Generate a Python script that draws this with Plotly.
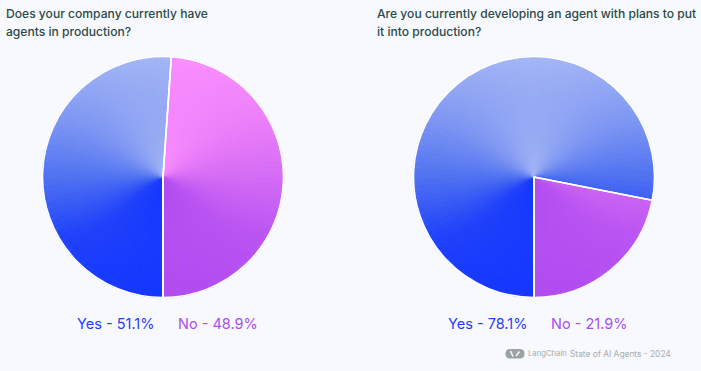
import math
import plotly.graph_objects as go

labels = ["Yes", "No"]
left_values = [51.1, 48.9]
right_values = [78.1, 21.9]
left_title = ["Does your company currently have", "agents in production?"]
right_title = ["Are you currently developing an agent with plans to put", "it into production?"]
footer_brand = "LangChain"
footer_text = "State of AI Agents - 2024"

BG = "#F8F8FF"
W, H = 701, 371
R = 120
BLUE_STOPS = [(0.0, (164, 182, 245)), (0.25, (128, 152, 243)), (0.5, (80, 114, 241)),
              (0.75, (32, 66, 250)), (1.0, (20, 54, 255))]
PINK_STOPS = [(0.0, (250, 143, 255)), (0.25, (236, 128, 250)), (0.5, (212, 108, 245)),
              (0.75, (186, 84, 242)), (1.0, (176, 76, 240))]
STEP_SHARE = 0.8
RING_RADII = list(range(R, 3, -5))


def mix(stops, t):
    for (a, ca), (b, cb) in zip(stops, stops[1:]):
        if t <= b:
            u = (t - a) / (b - a)
            return "rgb(%d,%d,%d)" % tuple(round(x + (y - x) * u) for x, y in zip(ca, cb))
    return "rgb(%d,%d,%d)" % stops[-1][1]


def gradient_parts(values, radius):
    """Split each share into thin parts; shade blends angle with height on the disc."""
    parts, colors = [], []
    pos = 0.0
    mid_r = max(radius - 2.5, 1) / R
    weight = 0.8 * mid_r
    for v, stops in zip(values, (BLUE_STOPS, PINK_STOPS)):
        n = max(2, round(v / STEP_SHARE))
        for i in range(n):
            mid = pos + v * (i + 0.5) / n
            c = math.cos(math.radians(180 + mid * 3.6))
            t = weight * c * mid_r + (1 - weight) * c
            parts.append(v / n)
            colors.append(mix(stops, (1 - t) / 2))
        pos += v
    return parts, colors


def domain(cx, cy, r):
    r += 0.5
    return dict(x=[(cx - r) / W, (cx + r) / W], y=[1 - (cy + r) / H, 1 - (cy - r) / H])


fig = go.Figure()
for values, cx in ((left_values, 163), (right_values, 534)):
    for radius in RING_RADII:
        parts, colors = gradient_parts(values, radius)
        fig.add_trace(go.Pie(values=parts, sort=False, direction="clockwise", rotation=180,
                             domain=domain(cx, 177, radius), textinfo="none", hoverinfo="skip",
                             marker=dict(colors=colors, line=dict(color=colors, width=0.6)),
                             showlegend=False))
    fig.add_trace(go.Pie(labels=labels, values=values, sort=False, direction="clockwise", rotation=180,
                         domain=domain(cx, 177, R), textinfo="none",
                         marker=dict(colors=["rgba(0,0,0,0)"] * 2, line=dict(color="#FFFFFF", width=1.6)),
                         showlegend=False))


def note(x, y, text, size, color, weight=400):
    fig.add_annotation(xref="paper", yref="paper", x=x / W, y=1 - y / H, text=text, showarrow=False,
                       xanchor="left", yanchor="middle", align="left", xshift=-1,
                       font=dict(family="Inter, Noto Sans, sans-serif", size=size, color=color, weight=weight))


TITLE = "#2B4A47"
for i, line in enumerate(left_title):
    note(5, 13 + 19 * i, line, 12.1, TITLE, 500)
for i, line in enumerate(right_title):
    note(376, 13 + 19 * i, line, 12.1, TITLE, 500)
YES, NO = "#1F3DFF", "#A94FEF"
note(76, 323, f"{labels[0]} - {left_values[0]}%", 14.5, YES)
note(177, 323, f"{labels[1]} - {left_values[1]}%", 14.5, NO)
note(447, 323, f"{labels[0]} - {right_values[0]}%", 14.5, YES)
note(550, 323, f"{labels[1]} - {right_values[1]}%", 14.5, NO)
note(527, 353.5, footer_brand, 7.7, "#A6AEAE")
note(568.5, 353.5, footer_text, 8.4, "#A6AEAE")


def px(x, y):
    return f"{x / W:.5f},{1 - y / H:.5f}"


x0, x1, y0, y1, r = 505.5, 524.5, 349, 358.5, 4.75
capsule = (f"M{px(x0 + r, y0)} L{px(x1 - r, y0)} Q{px(x1, y0)} {px(x1, y0 + r)} Q{px(x1, y1)} {px(x1 - r, y1)} "
           f"L{px(x0 + r, y1)} Q{px(x0, y1)} {px(x0, y0 + r)} Q{px(x0, y0)} {px(x0 + r, y0)} Z")
fig.add_shape(type="path", xref="paper", yref="paper", path=capsule, fillcolor="#9AA3A2", line=dict(width=0))
for a, b, c, d in ((510.5, 351, 513, 356.5), (516, 356, 519.5, 351.5)):
    fig.add_shape(type="line", xref="paper", yref="paper", x0=a / W, y0=1 - b / H, x1=c / W, y1=1 - d / H,
                  line=dict(color="#F4F5F6", width=1.6))

fig.update_layout(width=W, height=H, margin=dict(l=0, r=0, t=0, b=0), paper_bgcolor=BG, plot_bgcolor=BG)
fig.write_html("out.html", config={"displayModeBar": False},
               post_script="document.body.style.margin='0';document.body.style.background='#F8F8FF';")
